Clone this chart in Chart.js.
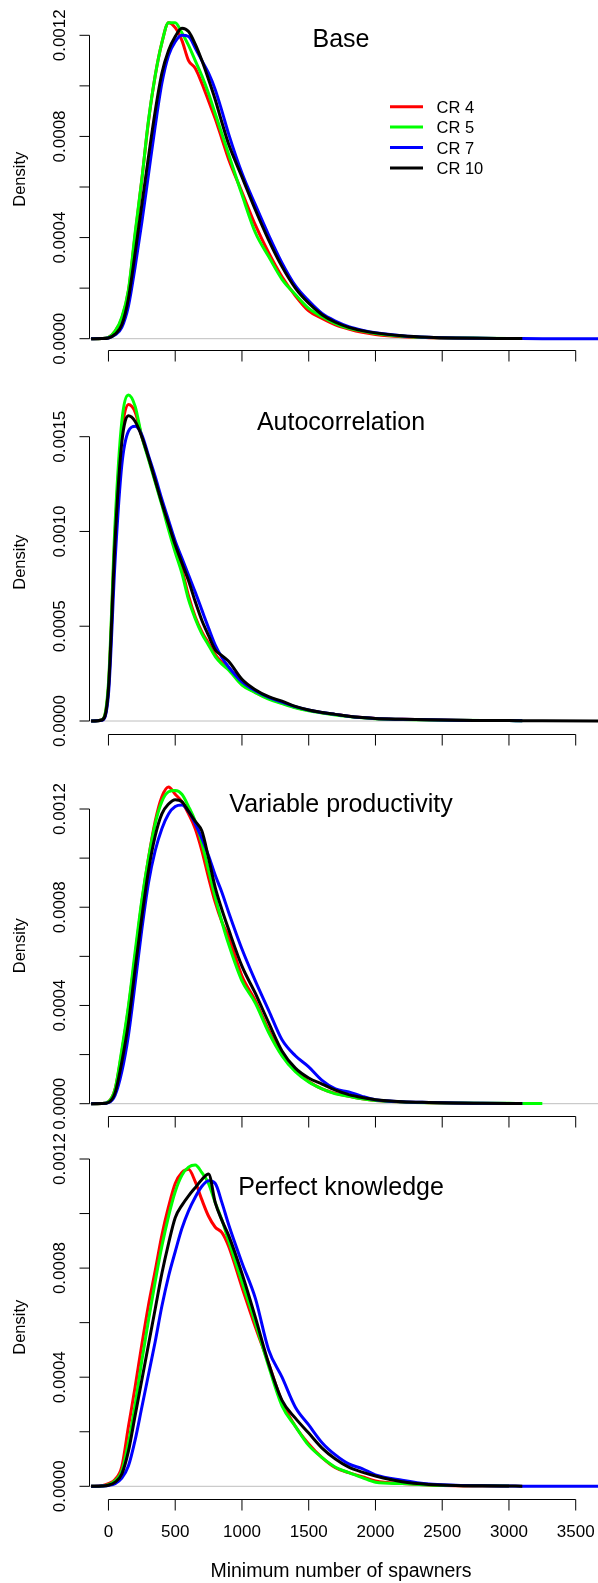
<!DOCTYPE html>
<html lang="en">
<head>
<meta charset="UTF-8">
<title>Minimum number of spawners</title>
<script src="https://cdn.jsdelivr.net/npm/chart.js@4.4.1/dist/chart.umd.min.js"></script>
<style>
  body { margin: 0; background: #fff; }
  #wrap { position: relative; width: 598px; height: 1583px; }
  canvas { position: absolute; left: 0; top: 0; }
</style>
</head>
<body>
<div id="wrap">
  <canvas id="p0" width="598" height="1583"></canvas>
  <canvas id="p1" width="598" height="1583"></canvas>
  <canvas id="p2" width="598" height="1583"></canvas>
  <canvas id="p3" width="598" height="1583"></canvas>
</div>
<script>
// spawner counts where the densities were read
const X = [-130, -50, 0, 50, 100, 150, 200, 250, 300, 350, 400, 450, 500, 550, 600, 650, 700, 750, 800, 850,
           900, 1000, 1100, 1200, 1300, 1400, 1500, 1600, 1700, 1800, 1900, 2000, 2200, 2400, 2600, 2800, 3000, 3100, 3250, 3700];

// densities, in units of 1e-4 (null = curve has ended)
const SCALE = 1e-4;

const baseCR4  = [0, 0.01, 0.05, 0.3, 0.8, 1.9, 4.1, 6.3, 8.6, 10.4, 11.7, 12.5, 12.3, 11.8, 11.0, 10.7, 10.1, 9.4, 8.7, 7.9,
                  7.1, 5.8, 4.5, 3.4, 2.45, 1.7, 1.1, 0.8, 0.55, 0.38, 0.25, 0.17, 0.08, 0.04, 0.02, 0.01, 0.005, null, null, null];
const baseCR5  = [0, 0.01, 0.05, 0.3, 0.85, 1.95, 4.2, 6.3, 8.65, 10.4, 11.7, 12.5, 12.5, 12.1, 11.6, 11.0, 10.4, 9.7, 8.9, 8.1,
                  7.3, 5.7, 4.2, 3.25, 2.35, 1.75, 1.2, 0.87, 0.6, 0.41, 0.3, 0.21, 0.1, 0.05, 0.03, 0.02, 0.01, null, null, null];
const baseCR7  = [0, 0.005, 0.03, 0.15, 0.45, 1.3, 2.85, 4.6, 6.5, 8.4, 10.1, 11.2, 11.75, 12.0, 11.95, 11.5, 11.0, 10.5, 9.85, 9.0,
                  8.1, 6.55, 5.3, 4.1, 3.0, 2.1, 1.5, 1.0, 0.7, 0.48, 0.34, 0.24, 0.12, 0.06, 0.03, 0.015, 0.01, 0.005, 0.002, 0];
const baseCR10 = [0, 0.005, 0.03, 0.18, 0.55, 1.6, 3.4, 5.3, 7.2, 9.0, 10.5, 11.4, 11.95, 12.28, 12.15, 11.65, 11.0, 10.25, 9.45, 8.55,
                  7.7, 6.4, 5.1, 3.9, 2.85, 2.0, 1.4, 0.95, 0.65, 0.45, 0.32, 0.23, 0.12, 0.06, 0.03, 0.015, 0.01, 0.005, null, null];

const autoCR4  = [0, 0.05, 1.8, 10.0, 15.2, 16.7, 16.3, 15.0, 13.9, 12.7, 11.5, 10.3, 9.1, 8.0, 6.6, 5.5, 4.7, 4.1, 3.5, 3.1,
                  2.8, 2.0, 1.5, 1.2, 0.95, 0.72, 0.56, 0.44, 0.34, 0.25, 0.18, 0.13, 0.09, 0.06, 0.04, 0.03, 0.02, null, null, null];
const autoCR5  = [0, 0.05, 2.0, 10.5, 15.8, 17.2, 16.6, 15.0, 13.8, 12.6, 11.4, 10.1, 8.9, 7.8, 6.4, 5.4, 4.6, 4.0, 3.4, 3.0,
                  2.7, 1.9, 1.5, 1.15, 0.92, 0.7, 0.54, 0.42, 0.32, 0.24, 0.17, 0.12, 0.08, 0.05, 0.04, 0.03, 0.02, 0.015, null, null];
const autoCR7  = [0, 0.04, 1.4, 8.5, 13.5, 15.3, 15.55, 15.1, 14.0, 12.9, 11.7, 10.6, 9.5, 8.6, 7.7, 6.8, 5.85, 4.9, 4.0, 3.35,
                  2.85, 2.07, 1.6, 1.25, 1.0, 0.76, 0.58, 0.45, 0.35, 0.25, 0.18, 0.13, 0.09, 0.06, 0.04, 0.03, 0.02, 0.015, null, null];
const autoCR10 = [0, 0.05, 1.7, 9.6, 14.7, 16.1, 15.8, 15.0, 13.9, 12.7, 11.5, 10.4, 9.3, 8.35, 7.4, 6.3, 5.3, 4.5, 3.75, 3.45,
                  3.15, 2.2, 1.65, 1.28, 1.05, 0.77, 0.58, 0.45, 0.35, 0.25, 0.18, 0.13, 0.09, 0.06, 0.04, 0.03, 0.02, 0.015, 0.01, 0.005];

const varCR4   = [0, 0.01, 0.08, 0.6, 2.1, 3.9, 6.0, 8.2, 10.0, 11.5, 12.5, 12.9, 12.6, 12.3, 11.8, 11.2, 10.3, 9.2, 8.2, 7.4,
                  6.8, 5.2, 4.2, 3.0, 2.0, 1.35, 0.9, 0.6, 0.42, 0.3, 0.2, 0.13, 0.07, 0.04, 0.02, 0.01, 0.005, null, null, null];
const varCR5   = [0, 0.01, 0.08, 0.6, 2.2, 4.0, 6.2, 8.3, 10.0, 11.4, 12.3, 12.7, 12.75, 12.6, 12.1, 11.5, 10.6, 9.5, 8.4, 7.4,
                  6.5, 5.0, 4.1, 2.9, 1.95, 1.3, 0.88, 0.6, 0.4, 0.3, 0.2, 0.13, 0.07, 0.04, 0.03, 0.02, 0.015, 0.01, 0.005, null];
const varCR7   = [0, 0.005, 0.04, 0.35, 1.3, 2.8, 4.9, 7.1, 9.0, 10.3, 11.2, 11.8, 12.1, 12.16, 11.9, 11.4, 10.8, 10.1, 9.3, 8.6,
                  7.8, 6.3, 5.0, 3.8, 2.6, 1.95, 1.5, 0.95, 0.6, 0.48, 0.3, 0.16, 0.08, 0.05, 0.03, 0.02, 0.01, 0.005, null, null];
const varCR10  = [0, 0.005, 0.05, 0.45, 1.7, 3.3, 5.5, 7.6, 9.5, 10.9, 11.8, 12.2, 12.38, 12.3, 11.9, 11.5, 11.1, 10.0, 8.8, 7.9,
                  7.1, 5.6, 4.5, 3.3, 2.15, 1.45, 1.05, 0.8, 0.55, 0.37, 0.25, 0.16, 0.08, 0.05, 0.03, 0.02, 0.01, 0.005, null, null];

const perfCR4  = [0, 0.02, 0.1, 0.25, 0.72, 2.2, 3.65, 5.2, 6.65, 7.9, 9.2, 10.25, 11.1, 11.5, 11.62, 11.17, 10.5, 9.9, 9.5, 9.3,
                  8.8, 7.3, 5.85, 4.5, 3.1, 2.2, 1.55, 1.05, 0.68, 0.5, 0.35, 0.2, 0.1, 0.05, 0.02, 0.01, 0.005, null, null, null];
const perfCR5  = [0, 0.01, 0.06, 0.2, 0.55, 1.6, 3.0, 4.6, 6.1, 7.5, 8.8, 9.9, 10.8, 11.4, 11.7, 11.78, 11.5, 11.1, 10.4, 9.76,
                  9.0, 7.5, 6.0, 4.4, 2.95, 2.2, 1.5, 1.05, 0.7, 0.5, 0.32, 0.15, 0.1, 0.05, 0.03, 0.02, 0.01, null, null, null];
const perfCR7  = [0, 0.01, 0.03, 0.1, 0.3, 0.75, 1.7, 2.9, 4.1, 5.3, 6.6, 7.7, 8.6, 9.45, 10.1, 10.6, 11.0, 11.2, 11.1, 10.4,
                  9.6, 8.2, 6.9, 5.0, 4.0, 2.9, 2.25, 1.6, 1.15, 0.82, 0.65, 0.42, 0.22, 0.08, 0.04, 0.02, 0.01, 0.005, 0.002, 0];
const perfCR10 = [0, 0.01, 0.04, 0.15, 0.45, 1.3, 2.6, 3.9, 5.2, 6.5, 7.8, 8.9, 9.85, 10.3, 10.65, 10.95, 11.25, 11.45, 10.4, 9.75,
                  9.2, 7.8, 6.2, 4.5, 3.15, 2.5, 1.95, 1.4, 1.0, 0.7, 0.52, 0.38, 0.17, 0.07, 0.03, 0.02, 0.01, 0.005, null, null];

const seriesLabels = ['CR 4', 'CR 5', 'CR 7', 'CR 10'];
const seriesColors = ['#ff0000', '#00ff00', '#0000ff', '#000000'];
const panelTitles = ['Base', 'Autocorrelation', 'Variable productivity', 'Perfect knowledge'];
const panelSeries = [
  [baseCR4, baseCR5, baseCR7, baseCR10],
  [autoCR4, autoCR5, autoCR7, autoCR10],
  [varCR4, varCR5, varCR7, varCR10],
  [perfCR4, perfCR5, perfCR7, perfCR10]
];

const xTicks = [0, 500, 1000, 1500, 2000, 2500, 3000, 3500];
const yTicksFine = [0, 0.0002, 0.0004, 0.0006, 0.0008, 0.001, 0.0012];
const yLabelsFine = ['0.0000', '', '0.0004', '', '0.0008', '', '0.0012'];
const yTicksAuto = [0, 0.0005, 0.001, 0.0015];
const yLabelsAuto = ['0.0000', '0.0005', '0.0010', '0.0015'];
const xTitle = 'Minimum number of spawners';
const yTitle = 'Density';

// page layout (pixels)
const W = 598, H = 1583;
const PLOT_LEFT = 89.5;
const X_MIN = -142, X_MAX = 3667;
const TITLE_X = 341;
const FONT = '"Liberation Sans", Arial, Helvetica, sans-serif';
const layouts = [
  { top: 8,    bottom: 350.5,  zero: 338.7,  ref: 0.0012, refPx: 35.3,  ticks: yTicksFine, labels: yLabelsFine },
  { top: 390,  bottom: 734.5,  zero: 721,    ref: 0.0015, refPx: 436.7, ticks: yTicksAuto, labels: yLabelsAuto },
  { top: 775,  bottom: 1116.5, zero: 1103.7, ref: 0.0012, refPx: 809,   ticks: yTicksFine, labels: yLabelsFine },
  { top: 1155, bottom: 1499.5, zero: 1486.3, ref: 0.0012, refPx: 1159,  ticks: yTicksFine, labels: yLabelsFine }
];

function rStyle(i) {
  const L = layouts[i];
  return {
    id: 'rStyle' + i,
    beforeDatasetsDraw(chart) {
      const ctx = chart.ctx, a = chart.chartArea;
      const y0 = chart.scales.y.getPixelForValue(0);
      ctx.save();
      ctx.strokeStyle = '#bebebe';
      ctx.lineWidth = 1;
      ctx.beginPath();
      ctx.moveTo(a.left, y0);
      ctx.lineTo(a.right, y0);
      ctx.stroke();
      ctx.restore();
    },
    afterDraw(chart) {
      const ctx = chart.ctx, a = chart.chartArea;
      const xs = chart.scales.x, ys = chart.scales.y;
      ctx.save();
      ctx.strokeStyle = '#000';
      ctx.fillStyle = '#000';
      ctx.lineWidth = 1;

      // y axis, R style: line spans first..last tick
      const yA = ys.getPixelForValue(L.ticks[0]);
      const yB = ys.getPixelForValue(L.ticks[L.ticks.length - 1]);
      ctx.beginPath();
      ctx.moveTo(a.left, yA);
      ctx.lineTo(a.left, yB);
      L.ticks.forEach(t => {
        const py = ys.getPixelForValue(t);
        ctx.moveTo(a.left, py);
        ctx.lineTo(a.left - 10, py);
      });
      ctx.stroke();
      ctx.font = '17px ' + FONT;
      ctx.textAlign = 'center';
      ctx.textBaseline = 'alphabetic';
      L.ticks.forEach((t, k) => {
        if (!L.labels[k]) return;
        ctx.save();
        ctx.translate(65, ys.getPixelForValue(t));
        ctx.rotate(-Math.PI / 2);
        ctx.fillText(L.labels[k], 0, 0);
        ctx.restore();
      });
      ctx.font = '16.5px ' + FONT;
      ctx.save();
      ctx.translate(25, (a.top + a.bottom) / 2);
      ctx.rotate(-Math.PI / 2);
      ctx.fillText(yTitle, 0, 0);
      ctx.restore();

      // x axis
      const xa = xs.getPixelForValue(xTicks[0]);
      const xb = xs.getPixelForValue(xTicks[xTicks.length - 1]);
      ctx.beginPath();
      ctx.moveTo(xa, a.bottom);
      ctx.lineTo(xb, a.bottom);
      xTicks.forEach(t => {
        const px = xs.getPixelForValue(t);
        ctx.moveTo(px, a.bottom);
        ctx.lineTo(px, a.bottom + 11);
      });
      ctx.stroke();
      if (i === 3) {
        ctx.font = '17px ' + FONT;
        xTicks.forEach(t => {
          ctx.fillText(String(t), xs.getPixelForValue(t), a.bottom + 37);
        });
        ctx.font = '19.5px ' + FONT;
        ctx.fillText(xTitle, TITLE_X, 1577);
      }

      // panel title
      ctx.font = '25px ' + FONT;
      ctx.fillText(panelTitles[i], TITLE_X, L.zero - 291.5);

      // legend (first panel only)
      if (i === 0) {
        ctx.font = '16.5px ' + FONT;
        ctx.textAlign = 'left';
        seriesLabels.forEach((lab, k) => {
          const ly = 106.7 + k * 20.4;
          ctx.strokeStyle = seriesColors[k];
          ctx.lineWidth = 3;
          ctx.beginPath();
          ctx.moveTo(390, ly);
          ctx.lineTo(423, ly);
          ctx.stroke();
          ctx.fillText(lab, 436.5, ly + 6);
        });
      }
      ctx.restore();
    }
  };
}

panelSeries.forEach((series, i) => {
  const L = layouts[i];
  const pxPerUnit = (L.zero - L.refPx) / L.ref;
  const yMin = -(L.bottom - L.zero) / pxPerUnit;
  const yMax = (L.zero - L.top) / pxPerUnit;

  const datasets = series.map((vals, k) => ({
    label: seriesLabels[k],
    data: X.map((x, j) => ({ x: x, y: vals[j] === null ? null : vals[j] * SCALE }))
           .filter(p => p.y !== null),
    borderColor: seriesColors[k],
    borderWidth: 3,
    pointRadius: 0,
    fill: false,
    cubicInterpolationMode: 'monotone',
    order: 4 - k
  }));

  new Chart(document.getElementById('p' + i).getContext('2d'), {
    type: 'line',
    data: { datasets: datasets },
    options: {
      responsive: false,
      animation: false,
      devicePixelRatio: 1,
      layout: { padding: { left: PLOT_LEFT, right: 0, top: L.top, bottom: H - L.bottom } },
      scales: {
        x: { type: 'linear', min: X_MIN, max: X_MAX, display: false },
        y: { type: 'linear', min: yMin, max: yMax, display: false }
      },
      plugins: { legend: { display: false }, tooltip: { enabled: false } }
    },
    plugins: [rStyle(i)]
  });
});
</script>
</body>
</html>
